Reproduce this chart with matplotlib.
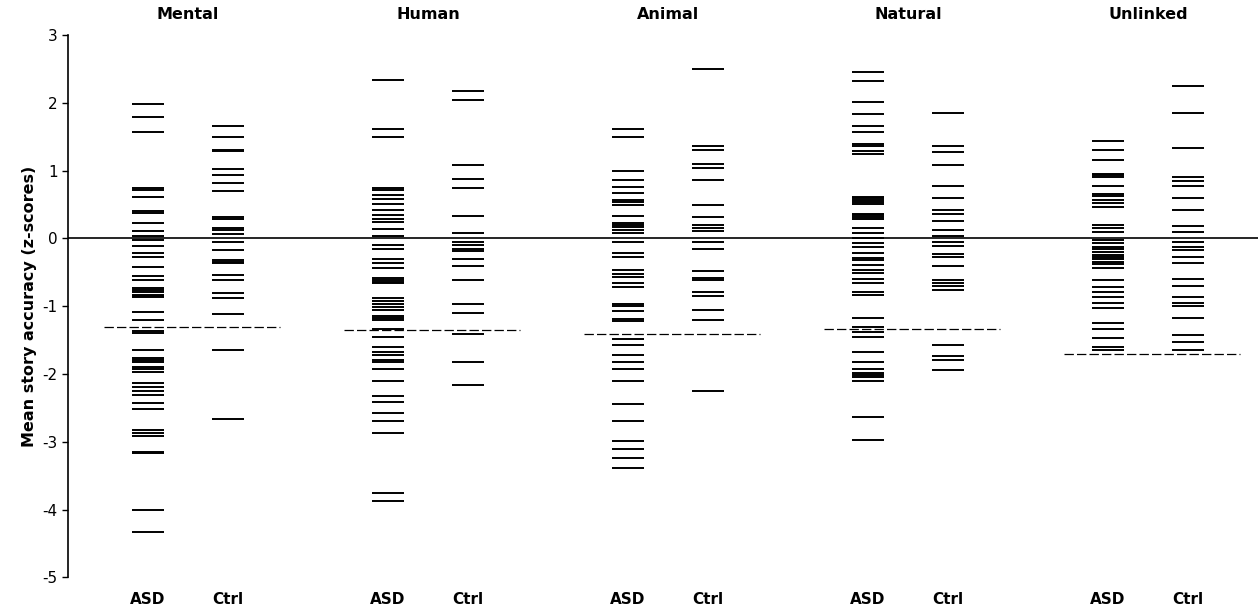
import matplotlib
matplotlib.use("Agg")
import matplotlib.pyplot as plt

plt.rcParams["axes.unicode_minus"] = False

categories = ["Mental", "Human", "Animal", "Natural", "Unlinked"]
groups = ["ASD", "Ctrl"]

# z-scores per story type (one dash per participant)
mental_asd = [1.98, 1.79, 1.57, 0.75, 0.72, 0.61, 0.40, 0.37, 0.22, 0.11, 0.03, -0.02,
              -0.11, -0.21, -0.27, -0.42, -0.55, -0.61, -0.73, -0.76, -0.79, -0.83, -0.85,
              -0.87, -1.08, -1.21, -1.36, -1.40, -1.64, -1.77, -1.80, -1.82, -1.89, -1.92,
              -1.97, -2.13, -2.19, -2.25, -2.31, -2.43, -2.52, -2.83, -2.87, -2.92, -3.15,
              -3.17, -4.01, -4.33]
mental_ctrl = [1.66, 1.49, 1.31, 1.29, 1.03, 0.93, 0.82, 0.70, 0.32, 0.29, 0.15, 0.12,
               0.06, -0.05, -0.17, -0.32, -0.35, -0.37, -0.54, -0.61, -0.80, -0.88, -1.11,
               -1.64, -2.66]
human_asd = [2.34, 1.61, 1.49, 0.75, 0.71, 0.64, 0.58, 0.51, 0.42, 0.35, 0.29, 0.24,
             0.14, 0.04, -0.10, -0.16, -0.31, -0.37, -0.44, -0.59, -0.62, -0.64, -0.66,
             -0.88, -0.92, -0.97, -1.01, -1.06, -1.15, -1.18, -1.21, -1.34, -1.46, -1.60,
             -1.67, -1.72, -1.80, -1.83, -1.92, -2.10, -2.33, -2.41, -2.57, -2.69, -2.87,
             -3.76, -3.87]
human_ctrl = [2.18, 2.04, 1.08, 0.88, 0.74, 0.33, 0.08, -0.06, -0.09, -0.15, -0.18,
              -0.31, -0.41, -0.62, -0.97, -1.10, -1.41, -1.82, -2.16]
animal_asd = [1.62, 1.50, 1.00, 0.86, 0.76, 0.67, 0.57, 0.53, 0.49, 0.33, 0.22, 0.20,
              0.17, 0.12, 0.08, -0.05, -0.21, -0.28, -0.47, -0.53, -0.57, -0.66, -0.71,
              -0.97, -0.99, -1.07, -1.19, -1.22, -1.49, -1.57, -1.72, -1.82, -1.93, -2.10,
              -2.44, -2.70, -2.99, -3.11, -3.24, -3.39]
animal_ctrl = [2.50, 1.37, 1.30, 1.10, 1.04, 0.86, 0.50, 0.32, 0.20, 0.16, 0.11, -0.05,
               -0.15, -0.48, -0.59, -0.61, -0.79, -0.85, -1.06, -1.21, -2.25]
natural_asd = [2.46, 2.32, 2.01, 1.84, 1.66, 1.57, 1.39, 1.36, 1.29, 1.24, 0.61, 0.59,
               0.57, 0.54, 0.51, 0.36, 0.34, 0.32, 0.28, 0.15, 0.08, 0.00, -0.07, -0.13,
               -0.22, -0.29, -0.32, -0.39, -0.47, -0.51, -0.60, -0.66, -0.79, -0.83, -1.18,
               -1.31, -1.38, -1.45, -1.67, -1.82, -1.93, -1.98, -2.01, -2.05, -2.11, -2.63,
               -2.97]
natural_ctrl = [1.85, 1.37, 1.27, 1.09, 0.78, 0.60, 0.42, 0.36, 0.25, 0.13, 0.04, -0.05,
                -0.11, -0.23, -0.27, -0.41, -0.62, -0.66, -0.70, -0.76, -1.57, -1.74,
                -1.79, -1.94]
unlinked_asd = [1.43, 1.30, 1.16, 0.95, 0.93, 0.90, 0.78, 0.66, 0.62, 0.57, 0.52, 0.46,
                0.20, 0.15, 0.10, -0.02, -0.07, -0.12, -0.16, -0.20, -0.24, -0.27, -0.31,
                -0.35, -0.38, -0.44, -0.61, -0.71, -0.79, -0.86, -0.96, -1.03, -1.25,
                -1.33, -1.47, -1.60, -1.64]
unlinked_ctrl = [2.25, 1.85, 1.33, 0.91, 0.85, 0.77, 0.59, 0.42, 0.18, 0.09, -0.05,
                 -0.13, -0.17, -0.28, -0.36, -0.60, -0.70, -0.87, -0.96, -1.00, -1.18,
                 -1.42, -1.53, -1.64]

# dashed cut-off per story type
cutoffs = [-1.30, -1.35, -1.41, -1.33, -1.70]

asd_data = [mental_asd, human_asd, animal_asd, natural_asd, unlinked_asd]
ctrl_data = [mental_ctrl, human_ctrl, animal_ctrl, natural_ctrl, unlinked_ctrl]

fig = plt.figure(figsize=(12.58, 6.12), dpi=100)
ax = fig.add_axes([0.054, 0.0567, 0.946, 0.886])

half = 0.2  # half width of a dash, x units
for i, cat in enumerate(categories):
    x_asd = 1 + 3 * i
    x_ctrl = x_asd + 1
    ax.hlines(asd_data[i], x_asd - half, x_asd + half, color="black", lw=1.4)
    ax.hlines(ctrl_data[i], x_ctrl - half, x_ctrl + half, color="black", lw=1.4)
    ax.plot([x_asd - 0.55, x_asd + 1.65], [cutoffs[i], cutoffs[i]], color="black",
            lw=0.9, dashes=(7.5, 2.5))
    ax.text(x_asd + 0.5, 3.3, cat, ha="center", va="center", fontsize=11.5,
            fontweight="bold", clip_on=False)
    ax.text(x_asd, -5.33, groups[0], ha="center", va="center", fontsize=11,
            fontweight="bold", clip_on=False)
    ax.text(x_ctrl, -5.33, groups[1], ha="center", va="center", fontsize=11,
            fontweight="bold", clip_on=False)

ax.axhline(0, color="black", lw=1.2)

ax.set_xlim(0, 14.875)
ax.set_ylim(-5, 3)
ax.set_yticks(range(-5, 4))
ax.tick_params(axis="y", labelsize=11, length=4, width=1)
ax.set_xticks([])
for side in ["top", "right", "bottom"]:
    ax.spines[side].set_visible(False)
ax.spines["left"].set_linewidth(1.2)
ax.set_ylabel("Mean story accuracy (z-scores)", fontsize=11.5, fontweight="bold",
              labelpad=4)

fig.savefig("out.png", dpi=100)
